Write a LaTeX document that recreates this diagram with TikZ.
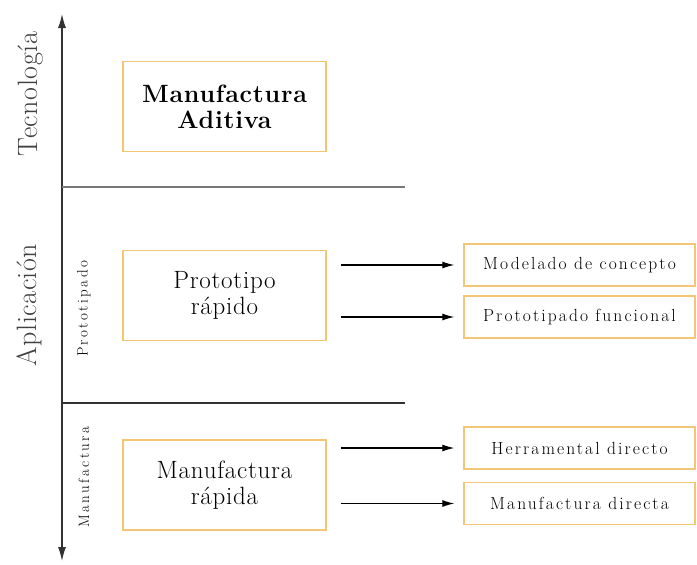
\documentclass[tikz,border=0pt]{standalone}
\usepackage{fontspec}
\newfontfamily\boxfont[LetterSpace=3]{Latin Modern Roman}
\newfontfamily\subfont[LetterSpace=12]{Latin Modern Roman}
\newfontfamily\sidefont[LetterSpace=16]{Latin Modern Roman}
\newfontfamily\axisfont[LetterSpace=2]{Latin Modern Roman}
\usetikzlibrary{arrows.meta}
\definecolor{boxorange}{RGB}{242,198,116}
\definecolor{axisgray}{RGB}{50,50,50}
\definecolor{linegray}{RGB}{120,120,120}

\begin{document}
\begin{tikzpicture}[x=1pt,y=-1pt,
		bigbox/.style={draw=boxorange, line width=1.5pt, rectangle, minimum width=203pt, minimum height=90pt, inner sep=0pt, align=center, font=\boxfont\fontsize{25}{26}\selectfont},
		subbox/.style={draw=boxorange, line width=1.3pt, rectangle, minimum width=231pt, minimum height=42pt, inner sep=0pt, font=\subfont\fontsize{17.5}{19}\selectfont},
		arrow/.style={-{Latex[length=12pt,width=7pt]}, line width=1.2pt, shorten <=14pt, shorten >=9pt},
		axislabel/.style={rotate=90, inner sep=0pt, font=\axisfont\fontsize{28}{30}\selectfont, text=black!75},
		sidelabel/.style={rotate=90, inner sep=0pt, font=\sidefont\fontsize{15}{16}\selectfont}]
	\useasboundingbox (0,0) rectangle (697,565);

	% axis and dividers
	\coordinate (axtop) at (62,14);
	\coordinate (axbot) at (62,561);
	\coordinate (divAw) at (62,187);
	\coordinate (divAe) at (405,187);
	\coordinate (divBw) at (62,403);
	\coordinate (divBe) at (405,403);
	\draw [{Latex[length=14pt,width=8pt]}-{Latex[length=14pt,width=8pt]}, line width=1.2pt, axisgray] (axbot) -- (axtop);
	\draw [line width=1.5pt, linegray] (divAw) -- (divAe);
	\draw [line width=1.3pt, axisgray] (divBw) -- (divBe);

	% side labels
	\node [axislabel] (tecno) at (31,94) {Tecnología};
	\node [axislabel] (aplic) at (29,305) {Aplicación};
	\node [sidelabel] (protolab) at (84,309) {Prototipado};
	\node [sidelabel] (manulab) at (84,477) {Manufactura};

	% main boxes
	\node [bigbox] (aditiva) at (224.5,106.5) {\bfseries Manufactura\\\bfseries Aditiva};
	\node [bigbox] (proto) at (224.5,295.5) {Prototipo\\rápido};
	\node [bigbox] (rapida) at (224.5,485) {Manufactura\\rápida};

	% applications
	\node [subbox] (concepto) at (579.5,265) {Modelado de concepto};
	\node [subbox] (funcional) at (579.5,317) {Prototipado funcional};
	\node [subbox] (herram) at (579.5,448) {Herramental directo};
	\node [subbox] (directa) at (579.5,503.5) {Manufactura directa};

	\draw [arrow] (proto.east |- concepto) -- (concepto.west);
	\draw [arrow] (proto.east |- funcional) -- (funcional.west);
	\draw [arrow] (rapida.east |- herram) -- (herram.west);
	\draw [arrow] (rapida.east |- directa) -- (directa.west);
\end{tikzpicture}
\end{document}
